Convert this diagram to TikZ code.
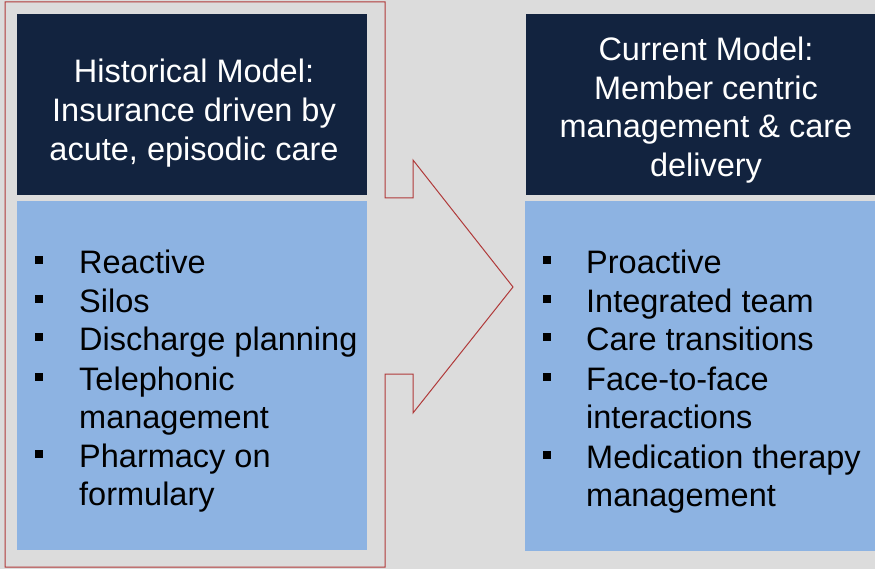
\documentclass[tikz,border=0pt]{standalone}
\usepackage{fontspec}
\setmainfont{Liberation Sans}
\usepackage{xcolor}
\usepackage{tikz}
\usetikzlibrary{positioning}

\definecolor{navy}{HTML}{12233F}
\definecolor{paleblue}{HTML}{8DB3E2}
\definecolor{bggray}{HTML}{DCDCDC}
\definecolor{arrowred}{HTML}{B03A3A}

\newcommand{\boxfont}{\fontsize{32.5bp}{38.6bp}\selectfont}

\tikzset{
    headbox/.style={fill=navy, inner sep=0, anchor=north west},
    bodybox/.style={fill=paleblue, inner sep=0, anchor=north west},
    headtext/.style={text=white, font=\boxfont, align=center, inner sep=0},
    itemtext/.style={font=\boxfont, anchor=base west, inner sep=0},
}

\begin{document}
\begin{tikzpicture}[x=1bp, y=-1bp]
    \useasboundingbox (0,0) rectangle (875,569);
    \fill[bggray] (0,0) rectangle (875,569);

    % Red outline arrow round the old model
    \draw[arrowred, line width=1bp, line join=miter]
        (5,2) -- (385,2) -- (385,198) -- (413,198) -- (413,160) -- (513,287)
        -- (413,413) -- (413,374) -- (385,374) -- (385,567) -- (5,567) -- cycle;

    % Boxes
    \node[headbox, minimum width=350bp, minimum height=181bp] (histhead) at (17,14) {};
    \node[bodybox, minimum width=350bp, minimum height=349bp] (histbody) at (17,201) {};
    \node[headbox, minimum width=360bp, minimum height=181bp] (currhead) at (526,14) {};
    \node[bodybox, minimum width=360bp, minimum height=350bp] (currbody) at (525,201) {};

    % Titles
    \node[headtext] (histtitle) at (194,113) {Historical Model:\\Insurance driven by\\acute, episodic care};
    \node[headtext] (currtitle) at (706,110) {Current Model:\\Member centric\\management \& care\\delivery};

    % Lists
    \foreach \n/\yy/\txt in {1/273/Reactive, 2/312/Silos, 3/350/Discharge planning,
                             4/390/Telephonic, 5/428/management, 6/467/Pharmacy on, 7/505/formulary} {
        \node[itemtext] (hist-\n) at (79,\yy) {\txt};
    }
    \foreach \n/\yy/\txt in {1/273/Proactive, 2/312/Integrated team, 3/350/Care transitions,
                             4/390/Face-to-face, 5/428/interactions, 6/468/Medication therapy, 7/506/management} {
        \node[itemtext] (curr-\n) at (586,\yy) {\txt};
    }

    % Square bullets
    \foreach \n in {1,2,3,4,6} {
        \fill (hist-\n.base west) ++(-44,-17) rectangle ++(8,8);
        \fill (curr-\n.base west) ++(-43,-17) rectangle ++(8,8);
    }
\end{tikzpicture}
\end{document}
